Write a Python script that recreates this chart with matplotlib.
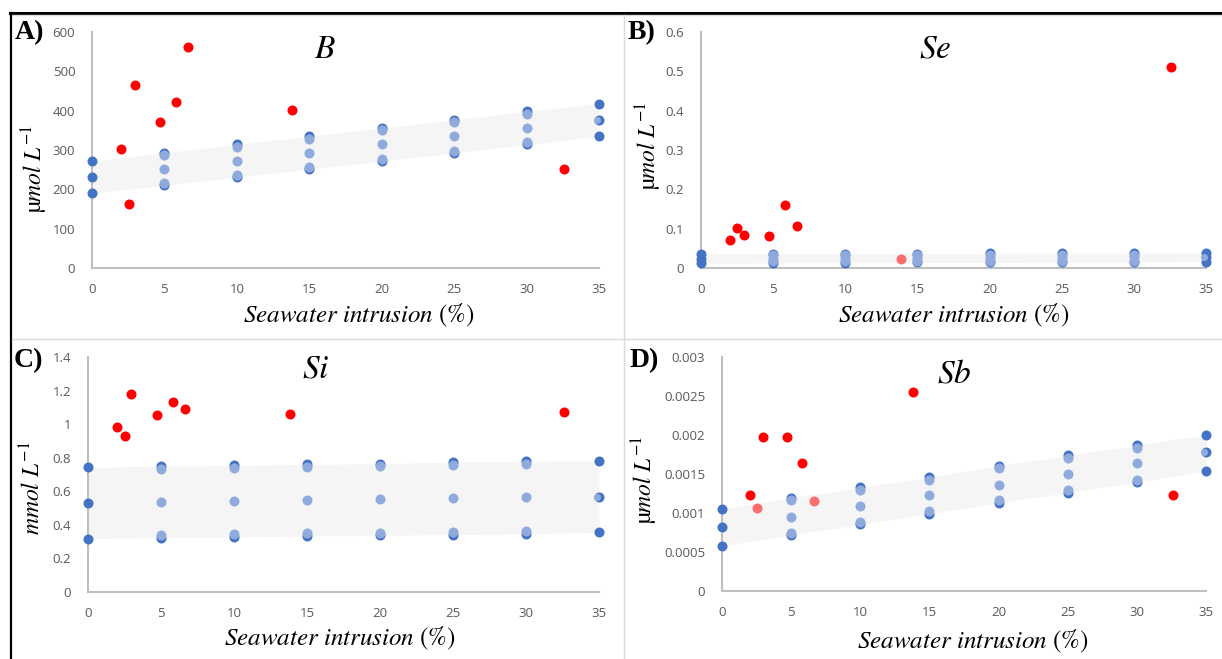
import numpy as np
import matplotlib
matplotlib.use('Agg')
import matplotlib.pyplot as plt
from matplotlib import transforms
from matplotlib.ticker import FuncFormatter

plt.rcParams['mathtext.fontset'] = 'stix'

W, H = 1222, 659

# ---- data ----
mix = [0, 5, 10, 15, 20, 25, 30, 35]                      # seawater intrusion %
red_x = [2.0, 2.52, 2.96, 4.72, 5.8, 6.64, 13.83, 32.6]  # samples

B_hi = [272, 293, 314, 335, 356, 377, 398, 418]
B_mid = [231, 252, 273, 293, 314, 335, 356, 376]
B_lo = [190, 210, 231, 251, 272, 292, 314, 335]
B_red = [302, 163, 465, 370, 421, 561, 402, 252]

Se_hi = [0.036, 0.036, 0.036, 0.036, 0.037, 0.038, 0.038, 0.039]
Se_mid = [0.024, 0.024, 0.025, 0.025, 0.026, 0.026, 0.027, 0.027]
Se_lo = [0.012, 0.013, 0.013, 0.014, 0.014, 0.015, 0.015, 0.016]
Se_red = [0.070, 0.102, 0.083, 0.082, 0.161, 0.107, 0.022, 0.510]

Si_hi = [0.742, 0.750, 0.754, 0.760, 0.764, 0.774, 0.779, 0.783]
Si_mid = [0.533, 0.539, 0.543, 0.549, 0.553, 0.559, 0.563, 0.567]
Si_lo = [0.318, 0.324, 0.328, 0.334, 0.338, 0.342, 0.346, 0.356]
Si_red = [0.982, 0.931, 1.179, 1.054, 1.129, 1.090, 1.060, 1.074]

Sb_hi = [0.001057, 0.001194, 0.001327, 0.001459, 0.001605, 0.001738, 0.001870, 0.002003]
Sb_mid = [0.000817, 0.000954, 0.001087, 0.001233, 0.001365, 0.001498, 0.001635, 0.001776]
Sb_lo = [0.000582, 0.000715, 0.000856, 0.000993, 0.001130, 0.001262, 0.001395, 0.001541]
Sb_red = [0.001233, 0.001066, 0.001973, 0.001973, 0.001643, 0.001151, 0.002546, 0.001233]

DARK = '#4472C4'
LIGHT = '#8FAADC'
BAND = '#F5F5F5'
GRID = '#BFBFBF'
TXT = '#595959'


def px(x, y):
    return x / W, 1 - y / H


def box(x0, y0, x1, y1):
    return [x0 / W, 1 - y1 / H, (x1 - x0) / W, (y1 - y0) / H]


fig = plt.figure(figsize=(W / 100, H / 100), dpi=100)

# frame lines
fig.add_artist(plt.Line2D([10 / W, 1], [1 - 13 / H] * 2, color='black', lw=2.2))
fig.add_artist(plt.Line2D([10 / W, 1], [1 - 15 / H] * 2, color='#DDDDDD', lw=1))
fig.add_artist(plt.Line2D([10.5 / W] * 2, [0, 1 - 13 / H], color='black', lw=1.6))
fig.add_artist(plt.Line2D([624 / W] * 2, [0, 1 - 15 / H], color='#DADADA', lw=1))
fig.add_artist(plt.Line2D([12 / W, 1], [1 - 339 / H] * 2, color='#DADADA', lw=1))

panels = [
    dict(hi=B_hi, mid=B_mid, lo=B_lo, red=B_red, faded=[], ymax=600, ystep=100,
         box=box(92, 32, 599, 268), title='B', tpos=(0.46, 0.932),
         tag='A)', tagpos=(15, 20), ylab='µ$\\mathit{mol}\\ L^{-1}$', ylpos=(35, 169),
         xlpos=(359, 315), off=2.5),
    dict(hi=Se_hi, mid=Se_mid, lo=Se_lo, red=Se_red, faded=[6], ymax=0.6, ystep=0.1,
         box=box(701, 32, 1206, 268), title='Se', tpos=(0.463, 0.932),
         tag='B)', tagpos=(628, 20), ylab='µ$\\mathit{mol}\\ L^{-1}$', ylpos=(649, 146),
         xlpos=(954, 315), off=1.5),
    dict(hi=Si_hi, mid=Si_mid, lo=Si_lo, red=Si_red, faded=[], ymax=1.4, ystep=0.2,
         box=box(88, 357, 599, 592), title='Si', tpos=(0.446, 0.953),
         tag='C)', tagpos=(14, 348), ylab='$\\mathit{mmol}\\ L^{-1}$', ylpos=(33, 488),
         xlpos=(340, 638), off=2.5),
    dict(hi=Sb_hi, mid=Sb_mid, lo=Sb_lo, red=Sb_red, faded=[1, 5], ymax=0.003, ystep=0.0005,
         box=box(722, 357, 1206, 591), title='Sb', tpos=(0.479, 0.932),
         tag='D)', tagpos=(630, 348), ylab='µ$\\mathit{mol}\\ L^{-1}$', ylpos=(645, 480),
         xlpos=(973, 641), off=2.5),
]

ms = 52
for p in panels:
    ax = fig.add_axes(p['box'])
    ax.set_xlim(0, 35)
    ax.set_ylim(0, p['ymax'])
    ax.set_xticks(mix)
    ax.set_yticks(np.arange(0, p['ymax'] + p['ystep'] / 2, p['ystep']))
    ax.yaxis.set_major_formatter(FuncFormatter(lambda v, pos: '{:g}'.format(round(v, 6))))
    for s in ['top', 'right']:
        ax.spines[s].set_visible(False)
    for s in ['left', 'bottom']:
        ax.spines[s].set_color(GRID)
        ax.spines[s].set_linewidth(1.5)
    ax.tick_params(length=0, labelsize=9.5, labelcolor=TXT, pad=11)
    ax.tick_params(axis='y', pad=12)
    for lab in ax.get_xticklabels() + ax.get_yticklabels():
        lab.set_family('Open Sans')
    ax.patch.set_alpha(0)

    ax.fill_between(mix, p['lo'], p['hi'], color=BAND, lw=0, zorder=1)

    down = transforms.offset_copy(ax.transData, fig=fig, x=0, y=-p['off'], units='dots')
    up = transforms.offset_copy(ax.transData, fig=fig, x=0, y=p['off'], units='dots')

    ax.scatter(mix, p['hi'], s=ms, color=DARK, lw=0, zorder=3, clip_on=False)
    ax.scatter(mix, p['lo'], s=ms, color=DARK, lw=0, zorder=3, clip_on=False)
    ax.scatter([mix[0], mix[-1]], [p['mid'][0], p['mid'][-1]], s=ms, color=DARK, lw=0,
               zorder=3, clip_on=False)
    ax.scatter(mix[1:-1], p['hi'][1:-1], s=ms, color=LIGHT, lw=0, zorder=4, transform=down)
    ax.scatter(mix[1:-1], p['mid'][1:-1], s=ms, color=LIGHT, lw=0, zorder=4)
    ax.scatter(mix[1:-1], p['lo'][1:-1], s=ms, color=LIGHT, lw=0, zorder=4, transform=up)
    ax.scatter([mix[-1]], [p['mid'][-1]], s=ms * 0.5, color=LIGHT, lw=0, zorder=4,
               clip_on=False, transform=transforms.offset_copy(ax.transData, fig=fig, x=-2, y=0, units='dots'))

    solid = [i for i in range(len(red_x)) if i not in p['faded']]
    ax.scatter([red_x[i] for i in solid], [p['red'][i] for i in solid], s=ms,
               color='#FF0000', lw=0, zorder=5, clip_on=False)
    if p['faded']:
        ax.scatter([red_x[i] for i in p['faded']], [p['red'][i] for i in p['faded']], s=ms,
                   color='#FF0000', alpha=0.55, lw=0, zorder=5)

    ax.text(p['tpos'][0], p['tpos'][1], '$\\mathit{%s}$' % p['title'], transform=ax.transAxes,
            ha='center', va='center', fontsize=24)

    fig.text(*px(*p['tagpos']), p['tag'], family='Liberation Serif', weight='bold',
             fontsize=20, ha='left', va='top')
    fig.text(*px(*p['ylpos']), p['ylab'], family='STIXGeneral', fontsize=17,
             rotation=90, ha='center', va='center')
    fig.text(*px(*p['xlpos']), '$\\mathit{Seawater\\ intrusion}\\ \\mathrm{(\\%)}$',
             fontsize=18, ha='center', va='center')

fig.savefig('out.png', dpi=100)
